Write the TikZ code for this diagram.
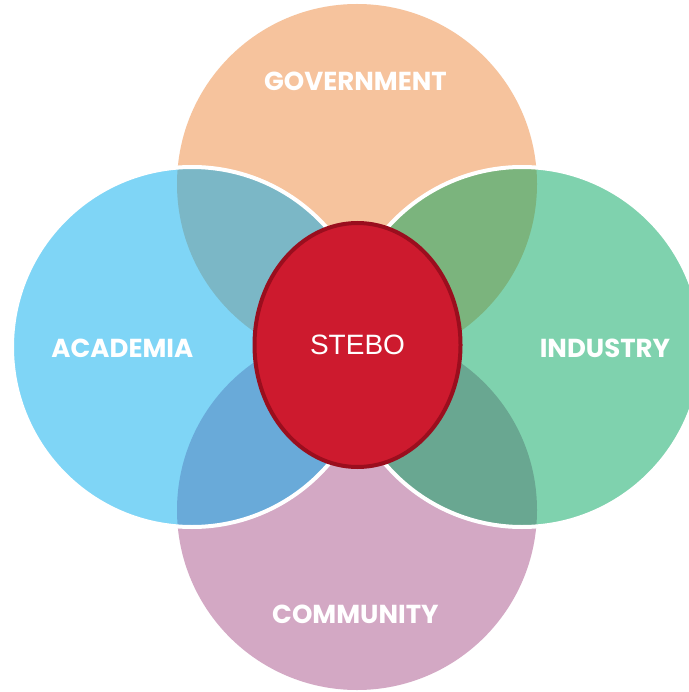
\documentclass[tikz,border=0pt]{standalone}
\usepackage{fontspec}
\usetikzlibrary{shapes.geometric}
\newfontfamily\popfont{Poppins}
\newfontfamily\arialfont{Liberation Sans}
\definecolor{govc}{HTML}{F6C39D}
\definecolor{comc}{HTML}{D3A8C4}
\definecolor{acac}{HTML}{01ADEF}
\definecolor{indc}{HTML}{01A75F}
\definecolor{stebofill}{HTML}{CD1A2E}
\definecolor{steboline}{HTML}{9A0E1E}
\begin{document}
\begin{tikzpicture}[x=1pt,y=-1pt,
  basecircle/.style={circle,minimum size=360pt,inner sep=0pt,draw=none},
  overcircle/.style={circle,minimum size=360pt,inner sep=0pt,draw=white,line width=4pt,fill opacity=0.5},
  lbl/.style={text=white,font=\popfont\bfseries\fontsize{26}{26}\selectfont,inner sep=0pt}]
\useasboundingbox (0,0) rectangle (688,692);
\fill[white] (0,0) rectangle (688,692);
\node[basecircle,fill=govc] (gov) at (357,184) {};
\node[basecircle,fill=comc] (com) at (357,510) {};
\node[overcircle,fill=acac] (aca) at (192,347) {};
\node[overcircle,fill=indc] (ind) at (522,347) {};
\node[ellipse,draw=steboline,line width=4pt,fill=stebofill,minimum width=206pt,minimum height=244pt,inner sep=0pt,text=white,font=\arialfont\fontsize{28}{28}\selectfont] (stebo) at (357.5,345) {STEBO};
\node[lbl] (govl) at (355.5,81) {GOVERNMENT};
\node[lbl] (acal) at (122.4,348) {ACADEMIA};
\node[lbl] (indl) at (604.9,348) {INDUSTRY};
\node[lbl] (coml) at (355.4,614) {COMMUNITY};
\end{tikzpicture}
\end{document}
